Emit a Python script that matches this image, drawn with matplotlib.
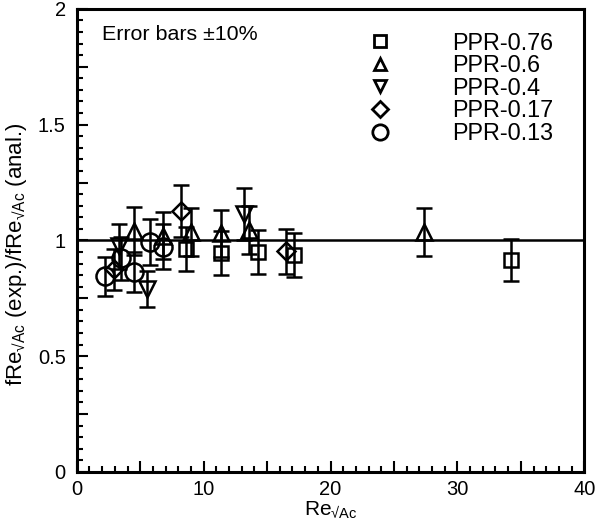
import numpy as np
import matplotlib
matplotlib.use("Agg")
import matplotlib.pyplot as plt
from matplotlib.ticker import MultipleLocator, FuncFormatter
from matplotlib.lines import Line2D

plt.rcParams['font.family'] = ['Liberation Sans', 'DejaVu Sans']
plt.rcParams['mathtext.fontset'] = 'custom'
plt.rcParams['mathtext.rm'] = 'Liberation Sans'
plt.rcParams['mathtext.it'] = 'Liberation Sans'

# data (Re_sqrtAc, ratio)
x_076 = [8.6, 11.4, 14.3, 17.1, 34.2]
y_076 = [0.963, 0.945, 0.95, 0.937, 0.916]

x_06 = [4.5, 6.8, 9.0, 11.4, 13.6, 27.4]
y_06 = [1.04, 1.02, 1.035, 1.03, 1.045, 1.036]

x_04 = [3.3, 5.5, 13.2]
y_04 = [0.975, 0.79, 1.115]

x_017 = [2.9, 8.25, 16.5]
y_017 = [0.875, 1.125, 0.952]

x_013 = [2.25, 3.45, 4.5, 5.75, 6.8]
y_013 = [0.845, 0.923, 0.865, 0.995, 0.973]

series = [
    ('PPR-0.76', x_076, y_076, 's', 9.5),
    ('PPR-0.6', x_06, y_06, '^', 11),
    ('PPR-0.4', x_04, y_04, 'v', 11),
    ('PPR-0.17', x_017, y_017, 'D', 9),
    ('PPR-0.13', x_013, y_013, 'o', 13),
]
err_frac = 0.10

fig = plt.figure(figsize=(5.95, 5.22), dpi=100)
ax = fig.add_axes([0.129, 0.096, 0.853, 0.887])

ax.axhline(1.0, color='black', lw=1.8, zorder=1)

handles = []
for label, xs, ys, mk, ms in series:
    ys = np.array(ys)
    ax.errorbar(xs, ys, yerr=err_frac * ys, fmt=mk, ms=ms, mfc='none', mec='black',
                mew=1.8, ecolor='black', elinewidth=1.8, capsize=6, capthick=1.8,
                zorder=3)
    handles.append(Line2D([], [], ls='none', marker=mk, ms=ms * 0.85, mfc='none',
                          mec='black', mew=2.0, label=label))

ax.set_xlim(0, 40)
ax.set_ylim(0, 2)

ax.xaxis.set_major_locator(MultipleLocator(5))
ax.xaxis.set_minor_locator(MultipleLocator(1))
ax.yaxis.set_major_locator(MultipleLocator(0.25))
ax.yaxis.set_minor_locator(MultipleLocator(0.05))
ax.xaxis.set_major_formatter(FuncFormatter(lambda v, p: '%g' % v if abs(v % 10) < 1e-6 else ''))
ax.yaxis.set_major_formatter(FuncFormatter(lambda v, p: '%g' % v if abs((v / 0.5) - round(v / 0.5)) < 1e-6 else ''))

ax.tick_params(which='both', direction='in', top=False, right=False, width=1.5,
               labelsize=14.5)
ax.tick_params(which='major', length=8)
ax.tick_params(which='minor', length=4.5)
ax.tick_params(axis='x', pad=6)
ax.tick_params(axis='y', pad=8)
for s in ax.spines.values():
    s.set_linewidth(2.2)

ax.set_xlabel(r'Re$_{\mathregular{√Ac}}$', fontsize=15, labelpad=0)
ax.set_ylabel(r'fRe$_{\mathregular{√Ac}}$ (exp.)/fRe$_{\mathregular{√Ac}}$ (anal.)',
              fontsize=16, labelpad=4)
ax.yaxis.set_label_coords(-0.095, 0.47)

ax.text(0.049, 0.944, 'Error bars ±10%', transform=ax.transAxes, fontsize=15.4,
        va='center', ha='left')

ax.legend(handles=handles, loc='upper left', bbox_to_anchor=(0.552, 0.951),
          frameon=False, fontsize=16.8, borderpad=0, handlelength=2,
          handletextpad=2.1, labelspacing=-0.02, borderaxespad=0)

fig.savefig('out.png', dpi=100)
